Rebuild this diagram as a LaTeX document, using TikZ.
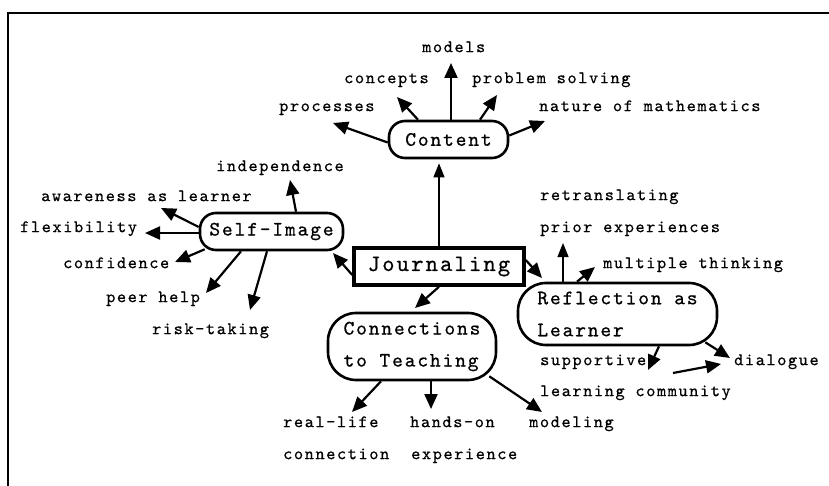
\documentclass[tikz,border=0pt]{standalone}
\usepackage{fontspec}
\usetikzlibrary{arrows.meta}
\newfontfamily\tw[LetterSpace=9,FakeBold=0.6]{lmmono10-regular.otf}
\tikzset{
  leaf/.style={inner sep=0pt, anchor=mid west, font=\tw\fontsize{17.5}{19}\selectfont},
  pill/.style={draw, line width=2.6pt, rounded corners=16pt, inner sep=0pt, align=left, font=\tw\fontsize{20.5}{32}\selectfont},
  jbox/.style={draw, line width=3.5pt, inner sep=0pt, font=\tw\fontsize{23.5}{25}\selectfont},
  arr/.style={line width=2.2pt, -{Triangle[length=15pt,width=13pt]}},
  thinarr/.style={line width=1.2pt, -{Triangle[length=14pt,width=11pt]}},
  frame/.style={line width=2pt}
}
\begin{document}
\begin{tikzpicture}[x=1pt,y=-1pt]
\useasboundingbox (0,0) rectangle (829,486);
\draw[frame] (8,486) -- (8,13) -- (829,13);

% main boxes
\node[pill, minimum width=119pt, minimum height=37pt] (content) at (448.5,139.5) {Content};
\node[pill, minimum width=143pt, minimum height=37pt] (si) at (271.5,231.5) {Self-Image};
\node[jbox, minimum width=170pt, minimum height=37pt] (jour) at (439,266.5) {Journaling};
\node[pill, rounded corners=28pt, minimum width=168pt, minimum height=67pt] (conn) at (412,346.5) {Connections\\to Teaching};
\node[pill, rounded corners=28pt, minimum width=199pt, minimum height=62pt] (refl) at (617.5,314) {Reflection as\\Learner};

% leaves
\node[leaf] (models) at (422,50) {models};
\node[leaf] (concepts) at (344,81) {concepts};
\node[leaf] (probsolv) at (472,81) {problem solving};
\node[leaf] (processes) at (279,109) {processes};
\node[leaf] (nature) at (539,109) {nature of mathematics};
\node[leaf] (indep) at (216,169) {independence};
\node[leaf] (aware) at (41,199) {awareness as learner};
\node[leaf] (flex) at (20,230) {flexibility};
\node[leaf] (conf) at (63,266) {confidence};
\node[leaf] (peer) at (106,300) {peer help};
\node[leaf] (risk) at (152,332) {risk-taking};
\node[leaf] (retrans) at (540,198) {retranslating};
\node[leaf] (prior) at (540,230) {prior experiences};
\node[leaf] (mult) at (603,266) {multiple thinking};
\node[leaf] (supp) at (540,363) {supportive};
\node[leaf] (lc) at (540,394) {learning community};
\node[leaf] (dial) at (734,363) {dialogue};
\node[leaf] (real) at (283,425) {real-life};
\node[leaf] (realb) at (283,457) {connection};
\node[leaf] (hands) at (410,425) {hands-on};
\node[leaf] (handsb) at (411,457) {experience};
\node[leaf] (model) at (529,425) {modeling};

% arrow tips
\coordinate (tProc) at (333,123);
\coordinate (tConc) at (397,97);
\coordinate (tMod) at (451,63);
\coordinate (tProb) at (497,95);
\coordinate (tNat) at (545,121);
\coordinate (tSI) at (333,253);
\coordinate (tConn) at (415,308);
\coordinate (tRefl) at (542,278);
\coordinate (tInd) at (290,180);
\coordinate (tAw) at (161,208);
\coordinate (tFlex) at (145,233);
\coordinate (tConf) at (175,262);
\coordinate (tPeer) at (206,293);
\coordinate (tRisk) at (250,310);
\coordinate (tReal) at (352,412);
\coordinate (tHands) at (431,409);
\coordinate (tModel) at (542,412);
\coordinate (tPrior) at (563,243);
\coordinate (tMult) at (595,267);
\coordinate (tSupp) at (648,370);
\coordinate (tDial) at (730,358);
\coordinate (sLc) at (673,373);
\coordinate (tLc) at (721,364);

% content arrows
\draw[arr] ([yshift=-3pt]content.west) -- (tProc);
\draw[arr] ([xshift=-30.5pt]content.north) -- (tConc);
\draw[arr] ([xshift=2.5pt]content.north) -- (tMod);
\draw[arr] ([xshift=31.5pt]content.north) -- (tProb);
\draw[arr] ([yshift=4pt]content.east) -- (tNat);

% journaling arrows
\draw[thinarr, shorten >=4pt] (jour.north) -- (jour.north |- content.south);
\draw[arr] ([yshift=-8.5pt]jour.west) -- (tSI);
\draw[arr] (jour.south) -- (tConn);
\draw[arr] ([yshift=6.5pt]jour.east) -- (tRefl);

% self-image arrows
\draw[arr] ([xshift=24.5pt]si.north) -- (tInd);
\draw[arr] ([yshift=4.5pt]si.west) -- (tAw);
\draw[arr] ([yshift=-1.5pt]si.west) -- (tFlex);
\draw[arr] ([xshift=6pt,yshift=2pt]si.south west) -- (tConf);
\draw[arr] ([xshift=-30.5pt]si.south) -- (tPeer);
\draw[arr] ([xshift=-4.5pt]si.south) -- (tRisk);

% connections arrows
\draw[arr] ([xshift=-31pt]conn.south) -- (tReal);
\draw[arr] ([xshift=19pt]conn.south) -- (tHands);
\draw[arr] ([xshift=-8pt,yshift=5pt]conn.south east) -- (tModel);

% reflection arrows
\draw[thinarr] ([xshift=-54.5pt]refl.north) -- (tPrior);
\draw[arr] ([xshift=-40.5pt]refl.north) -- (tMult);
\draw[arr] ([xshift=41.5pt]refl.south) -- (tSupp);
\draw[arr] ([xshift=-13pt,yshift=4pt]refl.south east) -- (tDial);
\draw[arr] (sLc) -- (tLc);
\end{tikzpicture}
\end{document}
